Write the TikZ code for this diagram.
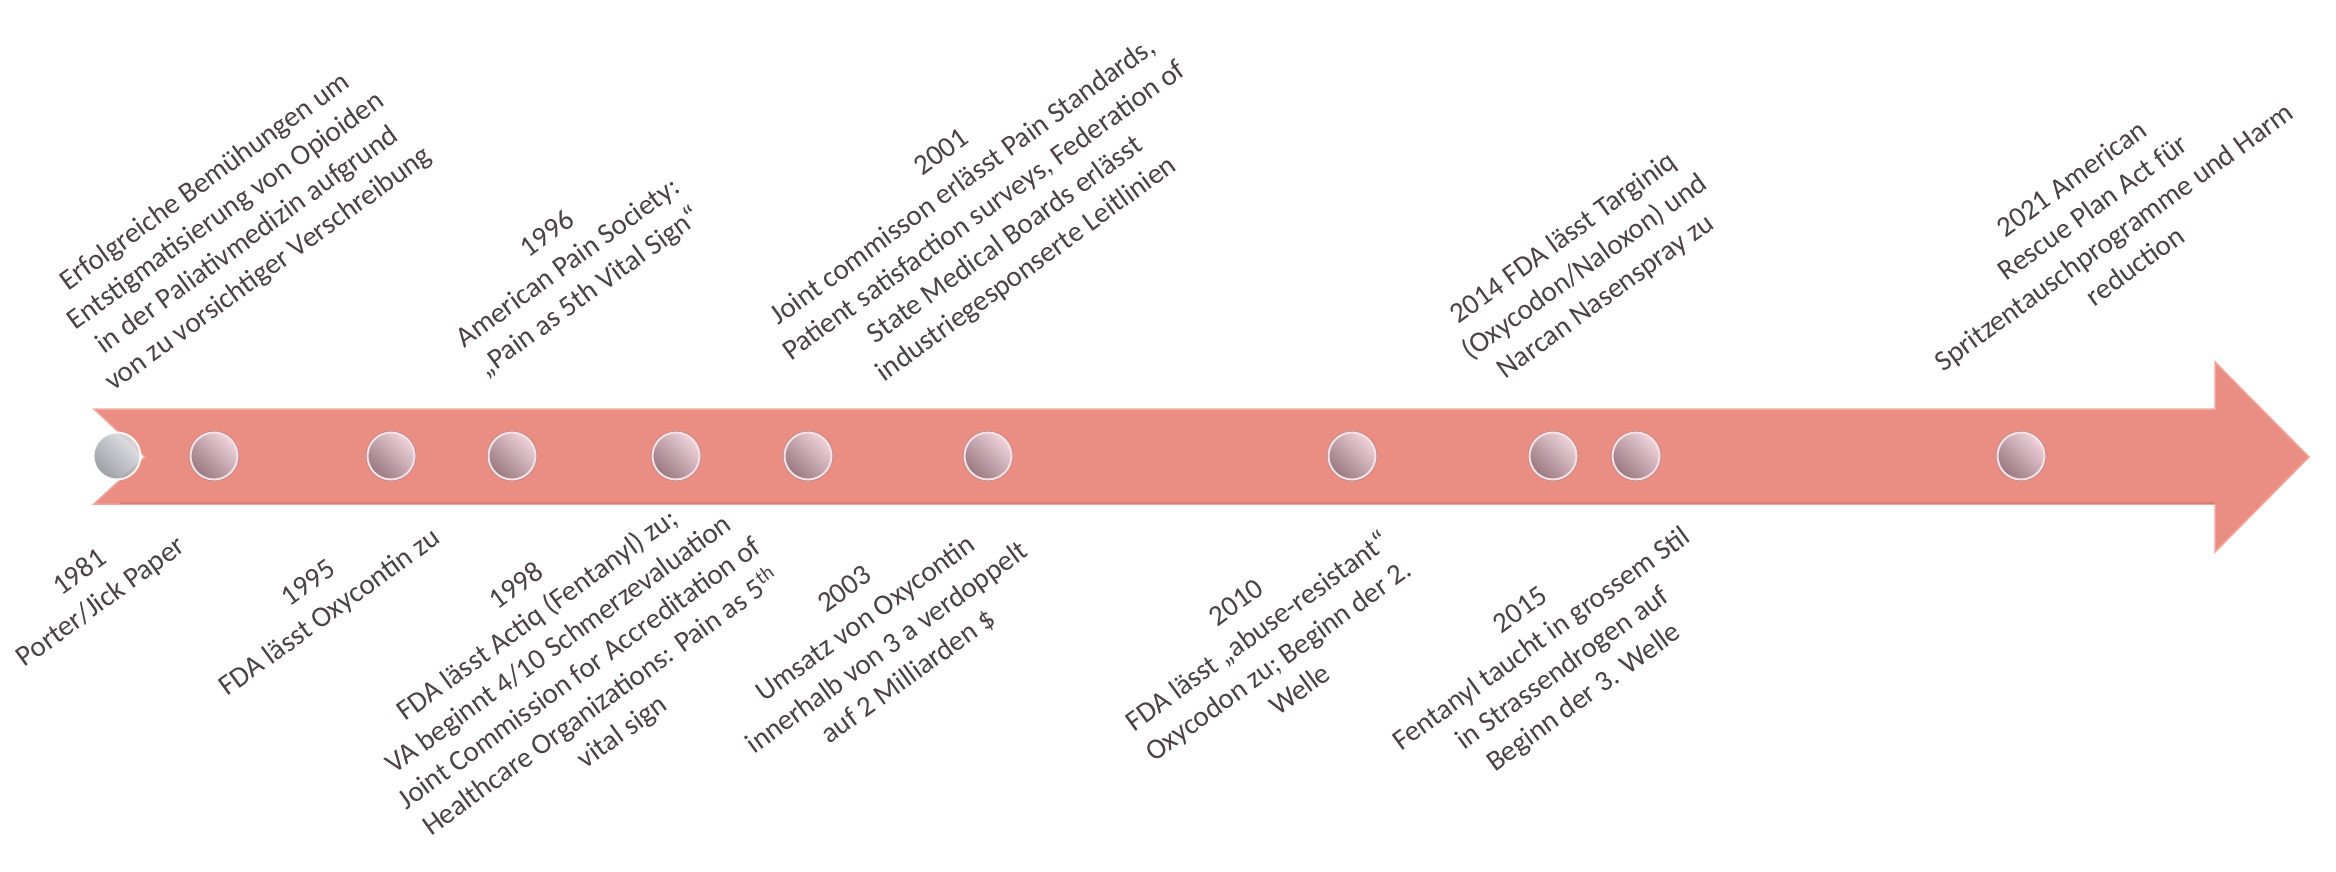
\documentclass[tikz,border=0pt]{standalone}
\usepackage{fontspec}
\setmainfont{Carlito}
\definecolor{txt}{HTML}{4B4246}
\definecolor{arrowfill}{HTML}{EA8E83}
\definecolor{arrowedge}{HTML}{F3A69C}
\definecolor{arrowshadow}{HTML}{D97E74}
\definecolor{dotdark}{HTML}{9A7880}
\definecolor{dotlight}{HTML}{EFD3DA}
\definecolor{dotrim}{HTML}{F5E0E4}
\definecolor{dotring}{HTML}{B8868C}
\definecolor{greydark}{HTML}{8C8E95}
\definecolor{greylight}{HTML}{DFE0E5}
\begin{document}
\begin{tikzpicture}[x=1pt,y=-1pt,
  lbl/.style={text=txt, align=center, rotate=36, font=\fontsize{29}{36}\selectfont, inner sep=0pt},
  dot/.style={circle, minimum size=47pt, inner sep=0pt, draw=dotrim, line width=2pt,
    preaction={draw=dotring, line width=3.5pt},
    top color=dotlight, bottom color=dotdark, shading angle=-45},
  greydot/.style={circle, minimum size=47pt, inner sep=0pt, draw=white, line width=2pt,
    top color=greylight, bottom color=greydark, shading angle=-45, opacity=0.85},
]
\useasboundingbox (0,0) rectangle (2336,872);
% arrow body
\path[fill=arrowfill, draw=arrowedge, line width=1.5pt]
  (94,409) -- (2215,409) -- (2215,362) -- (2309,457) -- (2215,552) -- (2215,504)
  -- (94,504) -- (145,457) -- cycle;
\draw[arrowshadow, line width=1.5pt] (120,503) -- (2215,503);
% dots
\node[greydot] (c1) at (117,456) {};
\foreach \n/\x in {2/214, 3/391, 4/512, 5/676, 6/808, 7/988, 8/1352, 9/1553, 10/1636, 11/2021}
  \node[dot] (c\n) at (\x,456) {};
% labels above
\node[lbl] (tA) at (237,226) {Erfolgreiche Bemühungen um\\Entstigmatisierung von Opioiden\\in der Paliativmedizin aufgrund\\von zu vorsichtiger Verschreibung};
\node[lbl] (tB) at (569,264) {1996\\American Pain Society:\\„Pain as 5th Vital Sign“};
\node[lbl] (tC) at (985,212) {2001\\Joint commisson erlässt Pain Standards,\\Patient satisfaction surveys, Federation of\\State Medical Boards erlässt\\industriegesponserte Leitlinien};
\node[lbl] (tD) at (1585,268) {2014 FDA lässt Targiniq\\(Oxycodon/Naloxon) und\\Narcan Nasenspray zu};
\node[lbl] (tE) at (2103,222) {2021 American\\Rescue Plan Act für\\Spritzentauschprogramme und Harm\\reduction};
% labels below
\node[lbl] (tF) at (91,588) {1981\\Porter/Jick Paper};
\node[lbl] (tG) at (320,599) {1995\\FDA lässt Oxycontin zu};
\node[lbl] (tH) at (570,660) {1998\\FDA lässt Actiq (Fentanyl) zu;\\VA beginnt 4/10 Schmerzevaluation\\Joint Commission for Accreditation of\\Healthcare Organizations: Pain as 5\textsuperscript{th}\\vital sign};
\node[lbl] (tI) at (877,634) {2003\\Umsatz von Oxycontin\\innerhalb von 3 a verdoppelt\\auf 2 Milliarden \$};
\node[lbl] (tJ) at (1268,646) {2010\\FDA lässt „abuse-resistant“\\Oxycodon zu; Beginn der 2.\\Welle};
\node[lbl] (tK) at (1553,655) {2015\\Fentanyl taucht in grossem Stil\\in Strassendrogen auf\\Beginn der 3. Welle};
\end{tikzpicture}
\end{document}
